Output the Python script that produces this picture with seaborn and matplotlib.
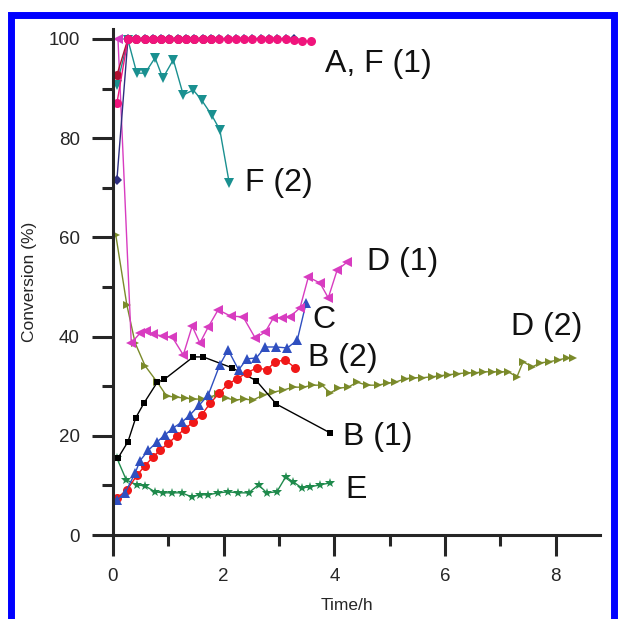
import numpy as np
import pandas as pd
import seaborn as sns
import matplotlib.pyplot as plt
from matplotlib.ticker import MultipleLocator
from matplotlib.patches import Rectangle

# --- data (time in h, conversion in %) ---
b1_t = [0.09, 0.27, 0.41, 0.56, 0.8, 0.93, 1.45, 1.63, 2.15, 2.59, 2.95, 3.92]
b1_v = [15.5, 18.8, 23.6, 26.6, 30.8, 31.4, 35.9, 35.9, 33.7, 31.1, 26.4, 20.6]

b2_t = [0.07, 0.25, 0.43, 0.58, 0.72, 0.85, 1.0, 1.15, 1.3, 1.45, 1.6, 1.76, 1.92,
        2.08, 2.24, 2.42, 2.6, 2.78, 2.93, 3.11, 3.29]
b2_v = [7.5, 9, 12, 14, 15.7, 17.1, 18.5, 20, 21.4, 22.8, 24.2, 26.6, 28.6,
        30.4, 31.5, 32.7, 33.7, 33.3, 34.9, 35.3, 33.7]

c_t = [0.07, 0.22, 0.4, 0.49, 0.64, 0.8, 0.94, 1.09, 1.25, 1.39, 1.56, 1.72, 1.93,
       2.08, 2.27, 2.42, 2.59, 2.75, 2.95, 3.15, 3.33, 3.49]
c_v = [7, 8.5, 12.5, 15, 17.1, 18.8, 20.2, 21.6, 22.8, 24.2, 26.2, 28.2, 34.3,
       37.3, 33.3, 35.5, 35.7, 37.9, 37.9, 37.7, 39.3, 46.8]

d1_t = [0.09, 0.33, 0.49, 0.6, 0.72, 0.9, 1.07, 1.27, 1.43, 1.57, 1.72, 1.9, 2.13,
        2.35, 2.57, 2.75, 2.9, 3.05, 3.2, 3.38, 3.53, 3.74, 3.89, 4.05, 4.23]
d1_v = [100, 38.7, 40.7, 41.1, 40.5, 40.1, 39.9, 36.3, 42.1, 38.7, 41.9, 45.4, 44.1,
        44, 39.7, 40.9, 43.8, 43.8, 44, 45.8, 52, 50.8, 47.8, 53.4, 55]

d2_t = [0.05, 0.25, 0.4, 0.58, 0.8, 0.97, 1.13, 1.3, 1.45, 1.6, 1.75, 1.9, 2.05,
        2.2, 2.36, 2.53, 2.71, 2.9, 3.07, 3.26, 3.44, 3.6, 3.78, 3.92, 4.07, 4.25,
        4.41, 4.59, 4.79, 4.95, 5.1, 5.28, 5.42, 5.59, 5.77, 5.91, 6.06, 6.22, 6.4,
        6.55, 6.69, 6.85, 7.0, 7.14, 7.3, 7.41, 7.58, 7.72, 7.87, 8.05, 8.21, 8.32]
d2_v = [60.5, 46.4, 38.7, 34.1, 30.8, 28, 27.8, 27.6, 27.4, 27.4, 27.8, 28.4, 27.6,
        27.2, 27.4, 27.2, 28.2, 28.8, 29.2, 29.8, 29.8, 30.2, 30.2, 28.6, 29.6, 29.8,
        30.8, 30.2, 30.2, 30.6, 30.8, 31.5, 31.7, 31.7, 31.9, 32.1, 32.3, 32.5, 32.7,
        32.7, 32.9, 32.9, 32.9, 32.9, 31.9, 34.9, 33.9, 34.7, 34.9, 35.3, 35.7, 35.7]

e_t = [0.07, 0.24, 0.43, 0.58, 0.76, 0.9, 1.06, 1.24, 1.42, 1.57, 1.72, 1.9, 2.08,
       2.26, 2.45, 2.63, 2.78, 2.96, 3.12, 3.26, 3.41, 3.56, 3.74, 3.92]
e_v = [15.5, 11.1, 10.1, 9.9, 8.7, 8.5, 8.5, 8.5, 7.7, 8.1, 8.1, 8.5, 8.7,
       8.5, 8.5, 10.1, 8.5, 8.7, 11.7, 10.7, 9.5, 9.7, 10.1, 10.5]

f2_t = [0.07, 0.27, 0.43, 0.58, 0.76, 0.9, 1.09, 1.27, 1.45, 1.6, 1.78, 1.93, 2.1]
f2_v = [90.7, 99.8, 93.1, 93.1, 96.2, 92.1, 95.8, 88.7, 89.7, 87.7, 84.7, 81.7, 71]

a_t = [0.07, 0.27, 0.42, 0.57, 0.72, 0.87, 1.02, 1.17, 1.32, 1.47, 1.62, 1.77, 1.92,
       2.07, 2.22, 2.37, 2.52, 2.67, 2.82, 2.97, 3.12, 3.27]
a_v = [71.5, 100, 100, 100, 100, 100, 100, 100, 100, 100, 100, 100, 100,
       100, 100, 100, 100, 100, 100, 100, 100, 100]

f1_t = [0.07, 0.27, 0.42, 0.57, 0.72, 0.87, 1.02, 1.17, 1.32, 1.47, 1.62, 1.77, 1.92,
        2.07, 2.22, 2.37, 2.52, 2.67, 2.82, 2.97, 3.12, 3.27, 3.42, 3.58]
f1_v = [87, 100, 100, 100, 100, 100, 100, 100, 100, 100, 100, 100, 100,
        100, 100, 100, 100, 100, 100, 100, 100, 99.8, 99.6, 99.5]

f1b_t = [0.07, 0.27, 0.42, 0.57, 0.72, 0.87, 1.02, 1.17, 1.32, 1.47, 1.62, 1.77]
f1b_v = [92.7, 100, 100, 100, 100, 100, 100, 100, 100, 100, 100, 100]

labels = ['A, F (1)', 'F (2)', 'D (1)', 'C', 'B (2)', 'D (2)', 'B (1)', 'E']
label_x = [3.83, 2.39, 4.59, 3.6, 3.53, 7.2, 4.16, 4.2]
label_y = [95.0, 70.9, 55.0, 43.3, 35.7, 41.9, 19.8, 9.1]

sns.set_style('ticks')
plt.rcParams['font.family'] = ['Liberation Sans', 'DejaVu Sans']

fig = plt.figure(figsize=(6.21, 6.19), dpi=100)
ax = fig.add_axes([113/621, 1 - 535/619, 487/621, 506/619])

series = [
    (d2_t, d2_v, '#7a8a2a', '>', 6),
    (e_t, e_v, '#1f8a4c', '*', 7),
    (b1_t, b1_v, 'black', 's', 5),
    (b2_t, b2_v, '#f01818', 'o', 6.5),
    (c_t, c_v, '#2f4fc0', '^', 6.5),
    (d1_t, d1_v, '#d83cc0', '<', 6.5),
    (f2_t, f2_v, '#1a9090', 'v', 6.5),
    (f1b_t, f1b_v, '#b01030', 'o', 6.5),
    (a_t, a_v, '#2e2e80', 'D', 5),
    (f1_t, f1_v, '#f0147c', 'o', 6.5),
]
for t, v, col, mk, ms in series:
    sns.lineplot(x=t, y=v, color=col, marker=mk, markersize=ms, markeredgewidth=0,
                 linewidth=1.0, estimator=None, sort=False, ax=ax, clip_on=False)

for txt, lx, ly in zip(labels, label_x, label_y):
    ax.text(lx, ly, txt, fontsize=23, ha='left', va='center', color='#111111')

ax.set_xlim(0, 8.8)
ax.set_ylim(0, 102)
ax.xaxis.set_major_locator(MultipleLocator(2))
ax.xaxis.set_minor_locator(MultipleLocator(1))
ax.yaxis.set_major_locator(MultipleLocator(20))
ax.yaxis.set_minor_locator(MultipleLocator(10))
ax.tick_params(which='major', direction='out', length=15, width=2.2, labelsize=13.5, pad=9)
ax.tick_params(which='minor', direction='out', length=8, width=2.2)
sns.despine(ax=ax)
for s in ['left', 'bottom']:
    ax.spines[s].set_linewidth(2.2)
ax.set_xlabel('Time/h', fontsize=12.5, labelpad=4)
ax.set_ylabel('Conversion (%)', fontsize=12.5, labelpad=8)
ax.xaxis.set_label_coords(0.48, -0.125)

fig.patches.append(Rectangle((10.5/621, -0.05), 603/621, 1.05 - 14.5/619,
                             transform=fig.transFigure, fill=False,
                             edgecolor='#0000ff', linewidth=5))

fig.savefig('out.png', dpi=100)
